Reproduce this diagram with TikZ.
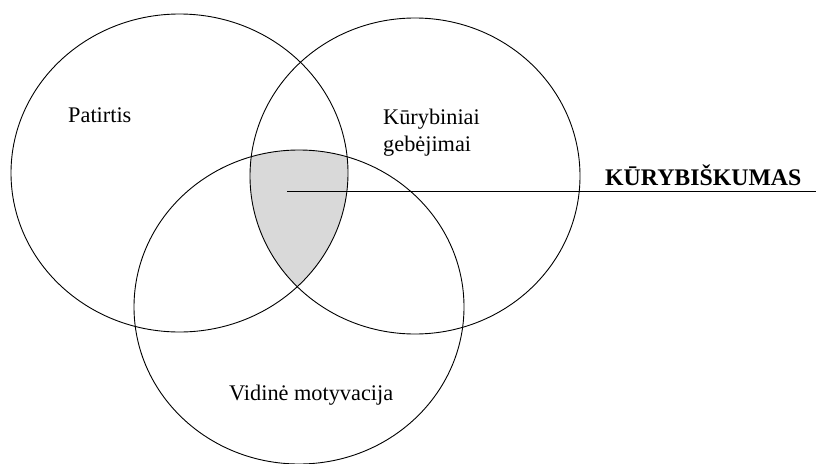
\documentclass[tikz,border=0pt]{standalone}
\usepackage{fontspec}
\setmainfont{Liberation Serif}
\usetikzlibrary{shapes.geometric}
\definecolor{vennfill}{HTML}{D9D9D9}
\tikzset{
  venn/.style={draw=black, line width=0.9pt, ellipse, inner sep=0pt},
  lbl/.style={inner sep=0pt, anchor=base west, font=\fontsize{22.3}{26.5}\selectfont},
  blbl/.style={inner sep=0pt, anchor=base west, font=\fontsize{23.8}{28}\selectfont\bfseries},
  conn/.style={draw=black, line width=0.9pt}
}
\begin{document}
\begin{tikzpicture}[x=1pt, y=-1pt]
\useasboundingbox (0,0) rectangle (816,463);
% shaded common region
\begin{scope}
  \clip (179.5,173) ellipse [x radius=168.5pt, y radius=159pt];
  \clip (415,176) ellipse [x radius=165pt, y radius=158pt];
  \fill[vennfill] (299,307) ellipse [x radius=165pt, y radius=157pt];
\end{scope}
% circles
\node[venn, minimum width=337pt, minimum height=318pt] (P) at (179.5,173) {};
\node[venn, minimum width=330pt, minimum height=316pt] (K) at (415,176) {};
\node[venn, minimum width=330pt, minimum height=314pt] (V) at (299,307) {};
% labels
\node[lbl] (tP) at (68,122) {Patirtis};
\node[lbl] (tK1) at (383,124) {Kūrybiniai};
\node[lbl] (tK2) at (383,151) {gebėjimai};
\node[lbl] (tV) at (229,400) {Vidinė motyvacija};
\node[blbl] (tC) at (605,185) {KŪRYBIŠKUMAS};
% connector
\coordinate (c) at (287,191);
\coordinate (e) at (816,191);
\draw[conn] (c) -- (e);
\end{tikzpicture}
\end{document}
